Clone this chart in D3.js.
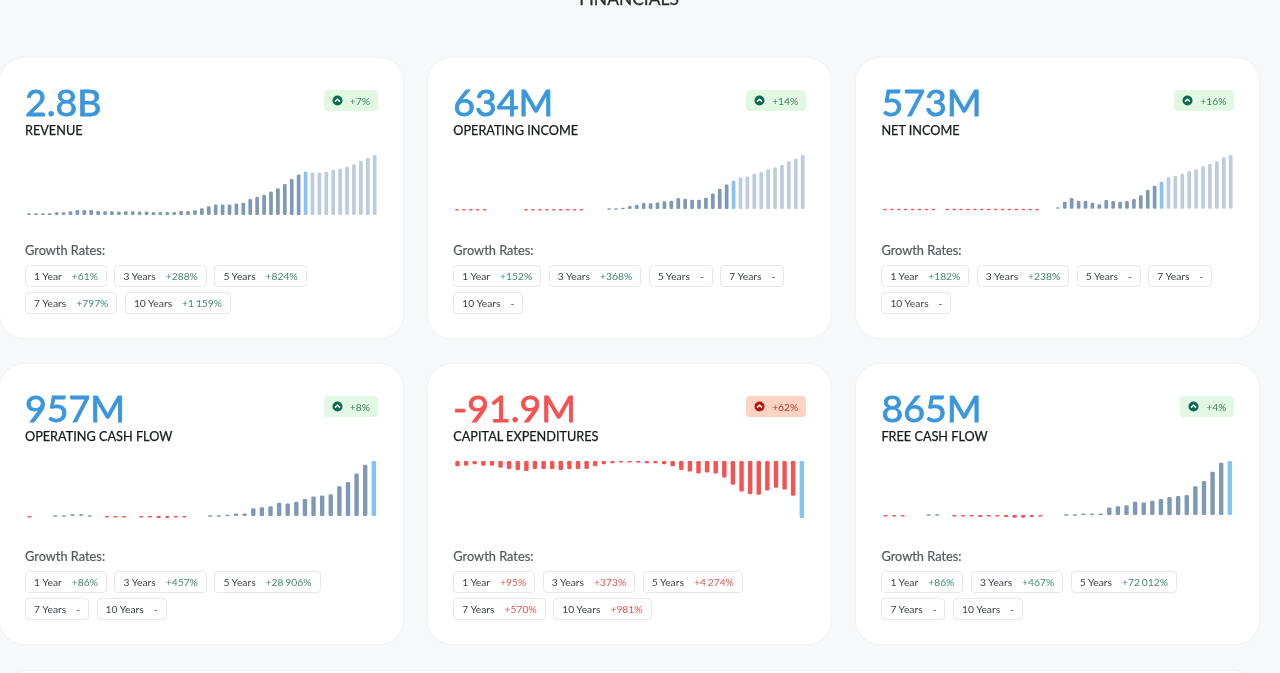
<!DOCTYPE html>
<html>
<head>
<meta charset="utf-8">
<title>Financials</title>
<script src="https://cdn.jsdelivr.net/npm/d3@7"></script>
<style>
  html, body { margin: 0; padding: 0; }
  body { width: 1280px; height: 673px; overflow: hidden; position: relative; background: #f7f8fa; font-family: Lato, sans-serif; filter: blur(.35px); }
  .title { position: absolute; left: 0; width: 1258px; top: -12px; text-align: center; font-size: 17.4px; color: #2b2f36; -webkit-text-stroke: .3px #2b2f36; }
  .card { position: absolute; width: 403px; height: 280px; box-sizing: border-box; background: #fff; border-radius: 24px; box-shadow: 0 0 2px 1px #f1f2f5; }
  .value { position: absolute; left: 25px; top: 19px; font-size: 37.5px; line-height: 50px; color: #3a97dc; -webkit-text-stroke: .85px #3a97dc; }
  .capex .value { color: #f55252; -webkit-text-stroke-color: #f55252; }
  .name { position: absolute; left: 25px; top: 63px; font-size: 12.7px; line-height: 18px; color: #16191d; -webkit-text-stroke: .25px #16191d; }
  .badge { position: absolute; right: 25px; top: 32px; height: 21px; border-radius: 4px; display: flex; align-items: center; padding: 0 8px; font-size: 10.3px; }
  .badge svg { margin-right: 7px; }
  .badge.up { background: #e2f8e5; color: #3f7d5f; }
  .badge.bad { background: #ffd3c2; color: #b23a34; }
  .spark { position: absolute; left: 0; top: 0; }
  .growth { position: absolute; left: 25px; top: 183px; font-size: 12.8px; line-height: 18px; color: #52585f; -webkit-text-stroke: .2px #52585f; }
  .chips { position: absolute; left: 25px; top: 206.5px; width: 353px; display: flex; flex-wrap: wrap; gap: 5.5px 7.5px; }
  .chip { height: 22px; box-sizing: border-box; border: 1px solid #e6e8eb; border-radius: 4px; padding: 0 8px; display: flex; align-items: center; font-size: 10.3px; color: #3c4248; white-space: nowrap; }
  .chip b { font-weight: 400; margin-left: 10px; word-spacing: -.8px; }
  .chip b.pos { color: #3f8a68; }
  .chip b.neg { color: #e5534f; }
  .next { position: absolute; left: 10px; top: 671px; width: 1240px; height: 30px; background: #fff; border-radius: 16px 16px 0 0; box-shadow: 0 0 2px 1px #f1f2f5; }
</style>
</head>
<body>
<div class="title">FINANCIALS</div>
<div class="next"></div>
<script>
// values in $M. 0 = nothing drawn for that period
var revenue = [110,110,110,110,175,175,240,330,330,330,260,240,240,220,240,240,220,220,195,195,195,195,260,260,305,440,570,680,680,680,745,790,1030,1180,1310,1510,1730,2010,2320,2610,2800,2740,2740,2800,2910,2980,3110,3285,3500,3680,3875];
var operatingIncome = [-7,-7,-7,-7,-7,0,0,0,0,0,-7,-7,-15,-22,-22,-15,-15,-7,-7,0,0,0,15,15,30,67,90,134,127,149,172,187,246,231,209,209,254,351,455,552,634,709,731,791,828,895,933,992,1074,1134,1216];
var netIncome = [-21,-21,-21,-7,-7,-7,-7,-7,0,-7,-7,-7,-21,-35,-35,-35,-35,-28,-28,-14,-7,-7,-7,0,0,28,148,226,170,170,127,92,184,163,148,163,205,283,396,488,573,665,700,742,799,834,898,947,1004,1089,1138];
var operatingCashFlow = [-12,0,0,12,12,29,29,12,0,-12,-12,-12,0,-12,-23,-35,-35,-23,-23,0,0,12,12,23,41,41,135,153,170,229,217,247,294,340,358,376,517,593,740,892,957];
var capitalExpenditures = [-8.5,-7.5,-5.3,-7.5,-7.5,-10.7,-12.8,-14.4,-16,-12.8,-12.8,-12.8,-14.4,-12.8,-12.8,-12.8,-8.5,-5.3,-3.7,-1.1,-1.1,-2.7,-3.7,-3.7,-5.3,-8.5,-14.4,-17.1,-20.3,-18.7,-20.3,-26.7,-38.4,-49.1,-53.4,-54.5,-47.5,-43.3,-45.9,-56.1,-91.9];
var freeCashFlow = [-22,-16,-16,0,0,11,11,0,-11,-22,-22,-32,-11,-22,-32,-43,-43,-32,-22,0,0,11,11,22,22,22,119,140,157,211,200,227,254,286,302,319,459,545,691,837,865];

var seriesValues = [revenue, operatingIncome, netIncome, operatingCashFlow, capitalExpenditures, freeCashFlow];
var cardNames = ["REVENUE","OPERATING INCOME","NET INCOME","OPERATING CASH FLOW","CAPITAL EXPENDITURES","FREE CASH FLOW"];
var bigValues = ["2.8B","634M","573M","957M","-91.9M","865M"];
var badgeTexts = ["+7%","+14%","+16%","+8%","+62%","+4%"];
var badgeBad = [false,false,false,false,true,false];
// lower end of each y domain, leaves the room under the zero line
var domainFloors = [0,-135,-134,-88,-96.7,-97];
var currentIndex = [40,40,40,40,40,40];

var periods = ["1 Year","3 Years","5 Years","7 Years","10 Years"];
var growthRates = [
  ["+61%","+288%","+824%","+797%","+1 159%"],
  ["+152%","+368%","-","-","-"],
  ["+182%","+238%","-","-","-"],
  ["+86%","+457%","+28 906%","-","-"],
  ["+95%","+373%","+4 274%","+570%","+981%"],
  ["+86%","+467%","+72 012%","-","-"]
];
var growthBad = [false,false,false,false,true,false];

var cardLefts = [0,428.3,856.4];
var cardTops = [58,364];

var colorPast = "#7f98b3", colorForecast = "#bccbde", colorNow = "#83c4f8", colorNeg = "#f55252";

function drawCard(i) {
  var card = d3.select("body").append("div").attr("class","card" + (i === 4 ? " capex" : ""))
    .style("left", cardLefts[i % 3] + "px")
    .style("top", cardTops[Math.floor(i / 3)] + "px");

  card.append("div").attr("class","value").text(bigValues[i]);
  card.append("div").attr("class","name").text(cardNames[i]);

  var badge = card.append("div").attr("class","badge " + (badgeBad[i] ? "bad" : "up"));
  var icon = badge.append("svg").attr("width",11).attr("height",11).attr("viewBox","0 0 11 11");
  icon.append("circle").attr("cx",5.5).attr("cy",5.5).attr("r",5).attr("fill", badgeBad[i] ? "#b8140f" : "#0b6b4d");
  icon.append("path").attr("d","M3 6.6 L5.5 4.2 L8 6.6").attr("fill","none").attr("stroke","#fff").attr("stroke-width",1.5);
  badge.append("span").text(badgeTexts[i]);

  drawBars(card, seriesValues[i], domainFloors[i], currentIndex[i]);

  card.append("div").attr("class","growth").text("Growth Rates:");
  var chips = card.append("div").attr("class","chips");
  periods.forEach(function(p, j) {
    var chip = chips.append("div").attr("class","chip");
    chip.append("span").text(p);
    var val = growthRates[i][j];
    chip.append("b").attr("class", val === "-" ? "" : (growthBad[i] ? "neg" : "pos")).text(val);
  });
}

function drawBars(card, values, floor, nowIdx) {
  var svg = card.append("svg").attr("class","spark").attr("width",404).attr("height",180);
  var dense = values.length > 45;
  var x = d3.scalePoint().domain(d3.range(values.length)).range(dense ? [29, 374.7] : [29.5, 373.8]);
  var y = d3.scaleLinear().domain([floor, Math.max(0, d3.max(values))]).range([157, 97]);
  var w = dense ? 3.7 : 4.4;
  svg.selectAll("rect").data(values).enter().append("rect")
    .attr("x", function(d, k) { return x(k) - w / 2; })
    .attr("width", w)
    .attr("y", function(d) { return Math.min(y(d), y(0)); })
    .attr("height", function(d) { return d === 0 ? 0 : Math.max(1.5, Math.abs(y(d) - y(0))); })
    .attr("rx", 1.3)
    .attr("fill", function(d, k) {
      if (k === nowIdx) return colorNow;
      if (d < 0) return colorNeg;
      return k > nowIdx ? colorForecast : colorPast;
    });
}

d3.range(6).forEach(drawCard);
</script>
</body>
</html>
